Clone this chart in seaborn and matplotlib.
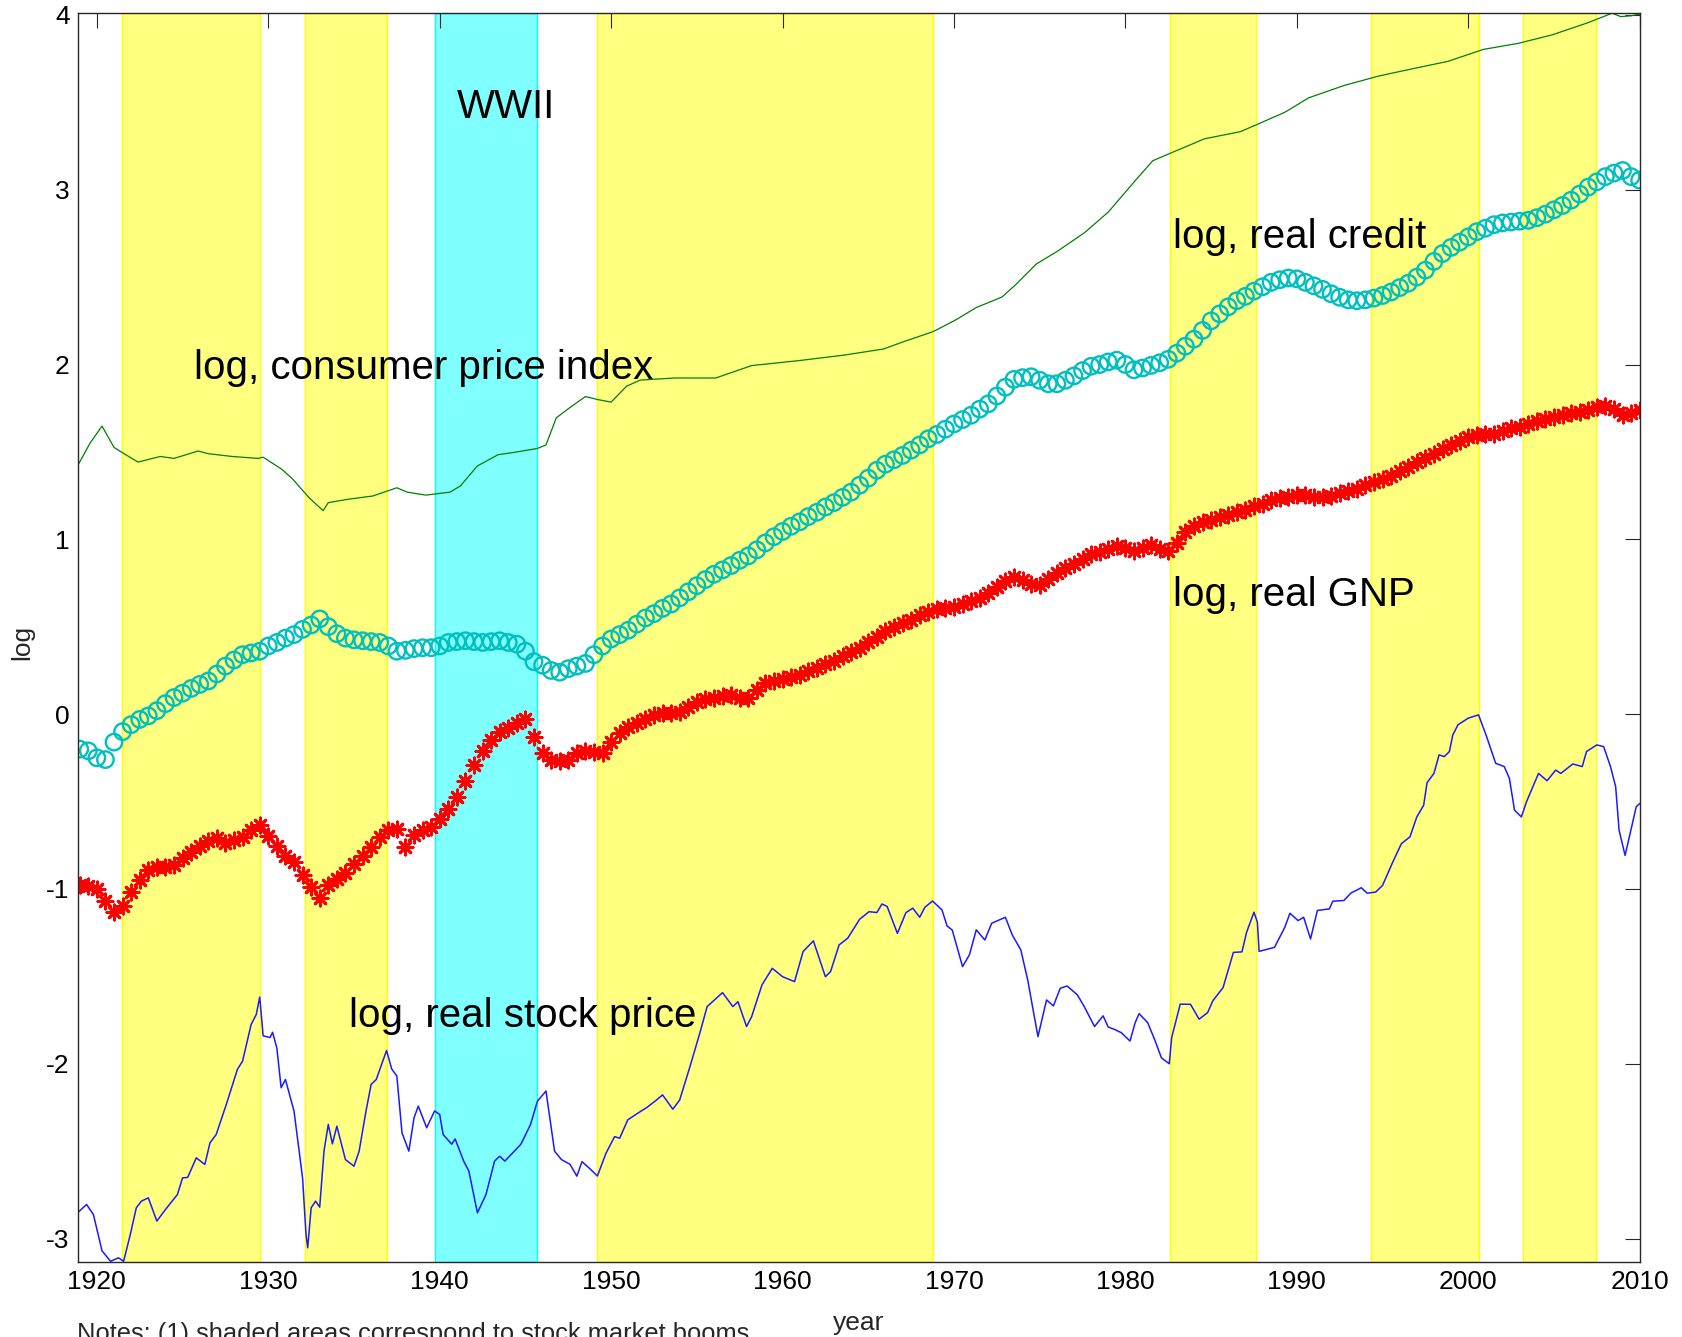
"""
Credit, output, prices and stock prices (log scale), 1919-2010,
with stock market booms shaded.
"""

import numpy as np
import matplotlib
matplotlib.use("Agg")
import matplotlib.pyplot as plt
import seaborn as sns

# ---------------------------------------------------------------- data
# semi-annual series, 1919.0 .. 2010.0
HALF_YEARS = np.arange(1919.0, 2010.01, 0.5)

REAL_CREDIT = [
    -0.20, -0.21,
    -0.25, -0.26, -0.16, -0.10, -0.06, -0.03, -0.01, 0.02, 0.06, 0.095,
    0.12, 0.147, 0.17, 0.19, 0.23, 0.275, 0.31, 0.34, 0.35, 0.36,
    0.39, 0.41, 0.435, 0.455, 0.485, 0.51, 0.545, 0.50, 0.46, 0.435,
    0.425, 0.42, 0.415, 0.41, 0.39, 0.36, 0.365, 0.375, 0.38, 0.38,
    0.39, 0.41, 0.415, 0.42, 0.415, 0.41, 0.415, 0.42, 0.41, 0.40,
    0.36, 0.30, 0.28, 0.25, 0.24, 0.26, 0.275, 0.29, 0.34, 0.39,
    0.43, 0.455, 0.48, 0.515, 0.55, 0.575, 0.605, 0.63, 0.665, 0.70,
    0.735, 0.77, 0.80, 0.825, 0.85, 0.88, 0.905, 0.94, 0.98, 1.015,
    1.045, 1.075, 1.10, 1.13, 1.155, 1.185, 1.21, 1.24, 1.27, 1.31,
    1.35, 1.395, 1.43, 1.455, 1.48, 1.51, 1.54, 1.575, 1.60, 1.63,
    1.66, 1.685, 1.71, 1.745, 1.775, 1.82, 1.87, 1.915, 1.925, 1.93,
    1.91, 1.89, 1.89, 1.91, 1.935, 1.965, 1.99, 2.00, 2.015, 2.025,
    2.00, 1.97, 1.98, 1.995, 2.01, 2.03, 2.065, 2.105, 2.145, 2.195,
    2.25, 2.29, 2.33, 2.365, 2.39, 2.42, 2.445, 2.47, 2.485, 2.495,
    2.49, 2.47, 2.45, 2.43, 2.405, 2.385, 2.37, 2.365, 2.37, 2.38,
    2.395, 2.415, 2.44, 2.465, 2.50, 2.54, 2.59, 2.635, 2.67, 2.70,
    2.73, 2.76, 2.78, 2.80, 2.81, 2.815, 2.82, 2.825, 2.84, 2.86,
    2.885, 2.91, 2.94, 2.975, 3.015, 3.045, 3.075, 3.095, 3.11, 3.075,
    3.055,
]

REAL_GNP = [
    -0.98, -0.985,
    -1.00, -1.07, -1.13, -1.10, -1.02, -0.95, -0.89, -0.875, -0.875, -0.865,
    -0.825, -0.79, -0.755, -0.725, -0.71, -0.735, -0.72, -0.70, -0.665, -0.635,
    -0.695, -0.755, -0.81, -0.845, -0.92, -0.99, -1.05, -0.98, -0.945, -0.91,
    -0.86, -0.81, -0.76, -0.70, -0.665, -0.655, -0.76, -0.69, -0.665, -0.645,
    -0.60, -0.54, -0.475, -0.385, -0.29, -0.21, -0.15, -0.10, -0.08, -0.05,
    -0.03, -0.13, -0.225, -0.26, -0.27, -0.265, -0.225, -0.21, -0.215, -0.225,
    -0.16, -0.11, -0.075, -0.05, -0.03, -0.005, 0.005, 0.005, 0.01, 0.04,
    0.07, 0.085, 0.095, 0.105, 0.11, 0.09, 0.09, 0.14, 0.18, 0.19,
    0.20, 0.215, 0.225, 0.245, 0.265, 0.285, 0.305, 0.33, 0.355, 0.38,
    0.41, 0.44, 0.475, 0.50, 0.52, 0.54, 0.565, 0.585, 0.60, 0.61,
    0.615, 0.63, 0.645, 0.665, 0.695, 0.725, 0.76, 0.785, 0.77, 0.745,
    0.74, 0.775, 0.81, 0.835, 0.86, 0.89, 0.915, 0.93, 0.945, 0.96,
    0.95, 0.935, 0.95, 0.965, 0.945, 0.935, 0.98, 1.04, 1.075, 1.10,
    1.11, 1.125, 1.14, 1.155, 1.17, 1.19, 1.205, 1.225, 1.235, 1.245,
    1.255, 1.255, 1.24, 1.24, 1.25, 1.265, 1.275, 1.29, 1.31, 1.33,
    1.345, 1.365, 1.39, 1.415, 1.44, 1.465, 1.49, 1.515, 1.54, 1.565,
    1.585, 1.595, 1.60, 1.605, 1.62, 1.635, 1.645, 1.66, 1.675, 1.69,
    1.70, 1.71, 1.72, 1.73, 1.74, 1.755, 1.765, 1.745, 1.71, 1.725,
    1.74,
]

CPI_YEARS = [
    1918.9, 1919.6, 1920.3, 1921.0, 1921.5, 1922.4, 1923.7, 1924.5, 1925.9,
    1926.5, 1927.9, 1929.4, 1929.7, 1930.8, 1931.4, 1932.4, 1933.2, 1933.5,
    1934.7, 1936.1, 1937.5, 1938.1, 1939.2, 1940.6, 1941.2, 1942.2, 1943.4,
    1944.5, 1945.7, 1946.2, 1946.8, 1947.5, 1948.5, 1949.2, 1950.0, 1950.9,
    1951.7, 1953.7, 1956.1, 1958.2, 1961.0, 1963.6, 1965.9, 1966.9, 1968.8,
    1970.1, 1971.3, 1972.8, 1973.6, 1974.8, 1976.0, 1977.6, 1979.0, 1980.6,
    1981.6, 1982.6, 1983.6, 1984.6, 1986.7, 1987.7, 1989.3, 1990.7, 1992.75,
    1994.8, 1996.8, 1998.8, 2000.9, 2002.9, 2004.9, 2007.0, 2008.4, 2008.9,
    2009.5, 2010.0,
]
CPI = [
    1.425, 1.55, 1.648, 1.526, 1.495, 1.442, 1.474, 1.463, 1.505,
    1.49, 1.474, 1.463, 1.47, 1.40, 1.347, 1.236, 1.164, 1.21,
    1.23, 1.248, 1.295, 1.27, 1.253, 1.27, 1.305, 1.42, 1.484,
    1.50, 1.52, 1.54, 1.695, 1.747, 1.817, 1.80, 1.785, 1.876,
    1.911, 1.923, 1.923, 1.994, 2.023, 2.054, 2.089, 2.125, 2.189,
    2.255, 2.326, 2.386, 2.457, 2.575, 2.646, 2.753, 2.872, 3.055,
    3.166, 3.208, 3.249, 3.291, 3.332, 3.374, 3.443, 3.526, 3.596,
    3.651, 3.693, 3.734, 3.803, 3.837, 3.886, 3.956, 4.01, 3.99,
    3.995, 4.005,
]

STOCK_YEARS = [
    1918.9, 1919.4, 1919.8, 1920.3, 1920.8, 1921.26, 1921.56, 1921.95, 1922.3,
    1922.6, 1923.0, 1923.5, 1924.0, 1924.7, 1925.0, 1925.3, 1925.8, 1926.3,
    1926.6, 1926.96, 1927.55, 1928.2, 1928.5, 1929.0, 1929.3, 1929.5, 1929.7,
    1930.1, 1930.25, 1930.5, 1930.75, 1931.0, 1931.5, 1932.0, 1932.2, 1932.3,
    1932.5, 1932.76, 1933.0, 1933.25, 1933.5, 1933.74, 1934.0, 1934.5, 1935.0,
    1935.3, 1935.7, 1936.0, 1936.3, 1936.9, 1937.2, 1937.5, 1937.8, 1938.2,
    1938.5, 1938.75, 1939.24, 1939.7, 1940.0, 1940.2, 1940.7, 1940.9, 1941.4,
    1941.7, 1942.2, 1942.7, 1943.2, 1943.5, 1943.8, 1944.35, 1944.74, 1945.3,
    1945.7, 1946.2, 1946.7, 1947.1, 1947.6, 1948.0, 1948.3, 1948.7, 1949.2,
    1949.7, 1950.2, 1950.5, 1950.97, 1951.6, 1952.1, 1952.6, 1953.0, 1953.6,
    1954.0, 1954.6, 1955.2, 1955.6, 1956.5, 1957.1, 1957.4, 1957.9, 1958.2,
    1958.8, 1959.4, 1960.0, 1960.7, 1961.2, 1961.8, 1962.5, 1962.8, 1963.3,
    1963.8, 1964.5, 1965.05, 1965.5, 1965.8, 1966.1, 1966.7, 1967.2, 1967.6,
    1968.0, 1968.3, 1968.75, 1969.3, 1969.6, 1969.9, 1970.5, 1970.9, 1971.3,
    1971.8, 1972.2, 1973.0, 1973.4, 1973.9, 1974.3, 1974.9, 1975.4, 1975.8,
    1976.2, 1976.6, 1977.2, 1977.6, 1978.2, 1978.7, 1979.0, 1979.35, 1979.76,
    1980.27, 1980.57, 1980.8, 1981.3, 1981.7, 1982.1, 1982.56, 1982.7, 1983.2,
    1983.8, 1984.3, 1984.8, 1985.1, 1985.7, 1986.3, 1986.8, 1987.07, 1987.5,
    1987.7, 1987.8, 1988.7, 1989.3, 1989.6, 1990.07, 1990.4, 1990.8, 1991.2,
    1991.9, 1992.1, 1992.75, 1993.15, 1993.76, 1994.1, 1994.6, 1995.0, 1995.6,
    1996.1, 1996.6, 1997.0, 1997.4, 1997.6, 1998.0, 1998.3, 1998.6, 1998.9,
    1999.1, 1999.4, 2000.0, 2000.6, 2001.07, 2001.6, 2002.1, 2002.4, 2002.7,
    2003.1, 2003.4, 2004.1, 2004.6, 2005.1, 2005.4, 2006.1, 2006.65, 2006.9,
    2007.5, 2007.9, 2008.3, 2008.6, 2008.8, 2009.15, 2009.4, 2009.8, 2010.0,
]
STOCK = [
    -2.85, -2.805, -2.863, -3.07, -3.13, -3.11, -3.13, -2.977, -2.824,
    -2.786, -2.767, -2.90, -2.834, -2.748, -2.653, -2.65, -2.538, -2.576,
    -2.452, -2.405, -2.233, -2.032, -1.985, -1.775, -1.718, -1.618, -1.84,
    -1.85, -1.82, -1.91, -2.137, -2.09, -2.27, -2.653, -2.977, -3.053,
    -2.824, -2.786, -2.82, -2.50, -2.347, -2.458, -2.357, -2.548, -2.586,
    -2.50, -2.271, -2.118, -2.09, -1.924, -2.03, -2.07, -2.395, -2.50,
    -2.31, -2.242, -2.366, -2.27, -2.29, -2.405, -2.46, -2.43, -2.557,
    -2.614, -2.853, -2.748, -2.557, -2.529, -2.557, -2.50, -2.46, -2.347,
    -2.214, -2.156, -2.50, -2.548, -2.575, -2.643, -2.56, -2.595, -2.642,
    -2.512, -2.417, -2.426, -2.321, -2.28, -2.249, -2.211, -2.178, -2.26,
    -2.207, -2.016, -1.816, -1.673, -1.593, -1.673, -1.645, -1.787, -1.73,
    -1.549, -1.454, -1.502, -1.53, -1.358, -1.297, -1.502, -1.473, -1.32,
    -1.282, -1.173, -1.13, -1.135, -1.086, -1.10, -1.254, -1.135, -1.11,
    -1.162, -1.105, -1.069, -1.12, -1.212, -1.235, -1.444, -1.377, -1.234,
    -1.292, -1.196, -1.162, -1.263, -1.349, -1.52, -1.845, -1.635, -1.669,
    -1.568, -1.555, -1.606, -1.673, -1.787, -1.726, -1.79, -1.803, -1.822,
    -1.87, -1.765, -1.713, -1.765, -1.86, -1.966, -2.0, -1.85, -1.659,
    -1.66, -1.745, -1.707, -1.64, -1.564, -1.363, -1.36, -1.248, -1.133,
    -1.19, -1.357, -1.334, -1.219, -1.139, -1.181, -1.162, -1.286, -1.123,
    -1.114, -1.07, -1.066, -1.024, -0.993, -1.024, -1.018, -0.98, -0.846,
    -0.741, -0.702, -0.588, -0.521, -0.392, -0.339, -0.233, -0.243, -0.214,
    -0.119, -0.061, -0.023, -0.004, -0.128, -0.281, -0.30, -0.367, -0.549,
    -0.588, -0.501, -0.339, -0.381, -0.32, -0.339, -0.285, -0.30, -0.214,
    -0.176, -0.186, -0.30, -0.415, -0.664, -0.808, -0.702, -0.53, -0.511,
]

# stock market booms (start, end) and the war years
BOOMS = [
    (1921.45, 1929.5), (1932.15, 1936.95), (1949.2, 1968.8),
    (1982.6, 1987.6), (1994.35, 2000.65), (2003.2, 2007.45),
]
WWII = (1939.7, 1945.7)

# annotations: (text, year, value at baseline)
LABELS = [
    ("WWII", 1941.0, 3.41),
    ("log, consumer price index", 1925.65, 1.92),
    ("log, real credit", 1982.8, 2.668),
    ("log, real GNP", 1982.8, 0.618),
    ("log, real stock price", 1934.7, -1.788),
]

X_TICKS = [1920, 1930, 1940, 1950, 1960, 1970, 1980, 1990, 2000, 2010]
Y_TICKS = [-3, -2, -1, 0, 1, 2, 3, 4]

# ---------------------------------------------------------------- style
sns.set_style("white")
plt.rcParams["font.family"] = ["Liberation Sans", "DejaVu Sans"]
plt.rcParams["axes.unicode_minus"] = False

YELLOW_FILL = "#FFFF80"
CYAN_FILL = "#80FFFF"
GREEN = "#008000"
TEAL = "#00BFBF"
RED = "#FF0000"
BLUE = "#1a1aff"


def main():
    fig = plt.figure(figsize=(16.83, 13.37), dpi=100)
    ax = fig.add_axes([0.04635, 0.0561, 0.9281, 0.93418])

    for start, end in BOOMS:
        ax.axvspan(start, end, facecolor=YELLOW_FILL, edgecolor="#FFFF00",
                   linewidth=1.0, zorder=0)
    ax.axvspan(*WWII, facecolor=CYAN_FILL, edgecolor="#00FFFF",
               linewidth=1.0, zorder=0)

    sns.lineplot(x=CPI_YEARS, y=CPI, ax=ax, color=GREEN, linewidth=0.9,
                 sort=False, zorder=3)
    sns.lineplot(x=STOCK_YEARS, y=STOCK, ax=ax, color=BLUE, linewidth=1.1,
                 sort=False, zorder=3)
    sns.scatterplot(x=HALF_YEARS, y=REAL_CREDIT, ax=ax, marker="o", s=140,
                    facecolor="none", edgecolor=TEAL, linewidth=1.7, zorder=4)
    sns.scatterplot(x=HALF_YEARS, y=REAL_GNP, ax=ax, marker=(8, 2, 0), s=120,
                    color=RED, linewidth=2.0, zorder=4)

    for text, year, value in LABELS:
        ax.text(year, value, text, fontsize=29, ha="left", va="baseline",
                color="black", zorder=5)

    ax.set_xlim(1918.9, 2010.02)
    ax.set_ylim(-3.134, 4.011)
    ax.set_xticks(X_TICKS)
    ax.set_yticks(Y_TICKS)
    ax.tick_params(direction="in", top=True, right=True, length=10.5,
                   width=0.8, labelsize=19, pad=6, colors="#262626")
    ax.tick_params(axis="both", labelcolor="black")
    for side in ax.spines.values():
        side.set_visible(True)
        side.set_color("#262626")
        side.set_linewidth(1.0)
        side.set_zorder(6)
    ax.set_xlabel("")
    ax.set_ylabel("")

    fig.text(0.0131, 0.5198, "log", rotation=90, fontsize=19,
             ha="center", va="center")
    fig.text(0.5104, 0.0052, "year", fontsize=19, ha="center",
             va="baseline")
    fig.text(0.0458, -0.003,
             "Notes: (1) shaded areas correspond to stock market booms",
             fontsize=18.4, ha="left", va="baseline")

    fig.savefig("out.png", dpi=100)
    plt.close(fig)


if __name__ == "__main__":
    main()
